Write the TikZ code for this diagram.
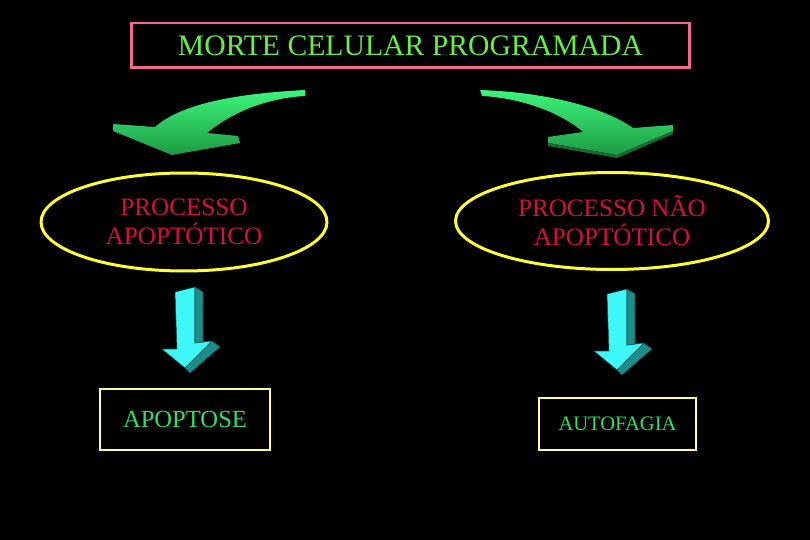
\documentclass[tikz,border=0pt]{standalone}
\usepackage{fontspec}
\setmainfont{Liberation Serif}
\usetikzlibrary{shapes.geometric}
\definecolor{titreG}{HTML}{66EE44}
\definecolor{roseC}{HTML}{EE6A90}
\definecolor{jauneE}{HTML}{FFFF33}
\definecolor{jauneB}{HTML}{FFFF99}
\definecolor{rougeT}{HTML}{D4103C}
\definecolor{vertT}{HTML}{33DD66}
\definecolor{vertHi}{HTML}{3CF57A}
\definecolor{vertLo}{HTML}{1E9A45}
\definecolor{cyanF}{HTML}{3EF8F8}
\definecolor{cyanS}{HTML}{1F8C8C}
\tikzset{
  boite/.style={rectangle, draw=#1, line width=1.1pt, align=center},
  ovale/.style={ellipse, draw=jauneE, line width=1.7pt, align=center, text=rougeT,
                font=\fontsize{14.3}{16.4}\selectfont},
  flecheV/.style={top color=vertHi, bottom color=vertLo},
  faceC/.style={fill=#1, draw=cyanS!60!black, line width=0.3pt},
}
\begin{document}
\begin{tikzpicture}[x=0.02cm, y=-0.02cm]
  \fill[black] (0,0) rectangle (810,540);
  \node[boite=roseC, line width=1.7pt, minimum width=11.18cm, minimum height=0.9cm,
        text=titreG, font=\fontsize{16.9}{18}\selectfont] (titre) at (410.5,45.5)
    {MORTE CELULAR PROGRAMADA};

  % curved green arrows
  \shade[flecheV] (305,90) .. controls (230,94) and (180,105) .. (155,127) -- (113,124)
    -- (113,131) -- (172,155) -- (240,143) -- (238,136) -- (207,133)
    .. controls (235,110) and (270,98) .. (305,96) -- cycle;
  \shade[flecheV] (480,90) .. controls (540,92) and (600,105) .. (633,128) -- (673,125)
    -- (673,131) -- (617,155) -- (548,143) -- (548,137) -- (583,132)
    .. controls (560,112) and (520,98) .. (482,96) -- cycle;
  \fill[vertLo!70!black] (548,143) -- (617,155) -- (673,131) -- (673,134) -- (617,158)
    -- (548,146) -- cycle;

  \node[ovale, minimum width=5.72cm, minimum height=1.96cm] (apop) at (184,222)
    {PROCESSO\\APOPTÓTICO};
  \node[ovale, minimum width=6.26cm, minimum height=1.94cm] (napop) at (612,221)
    {PROCESSO NÃO\\APOPTÓTICO};

  % cyan arrows
  \foreach \dx/\dy in {0/0, 432/2} {
    \begin{scope}[shift={(\dx,\dy)}]
      \path[faceC=cyanF] (175,292) -- (195,287) -- (195,343) -- (212,341) -- (185,368)
        -- (162,349) -- (177,349) -- cycle;
      \path[faceC=cyanS] (195,287) -- (203,292) -- (203,342) -- (195,343) -- cycle;
      \path[faceC=cyanS] (212,341) -- (220,347) -- (190,373) -- (185,368) -- cycle;
    \end{scope}
  }

  \node[boite=jauneB, minimum width=3.4cm, minimum height=1.22cm, text=vertT,
        font=\fontsize{14}{16}\selectfont] (apoptose) at (185,419.5) {APOPTOSE};
  \node[boite=jauneB, minimum width=3.14cm, minimum height=1.04cm, text=vertT,
        font=\fontsize{11.7}{14}\selectfont] (autofagia) at (617.5,424) {AUTOFAGIA};
\end{tikzpicture}
\end{document}
